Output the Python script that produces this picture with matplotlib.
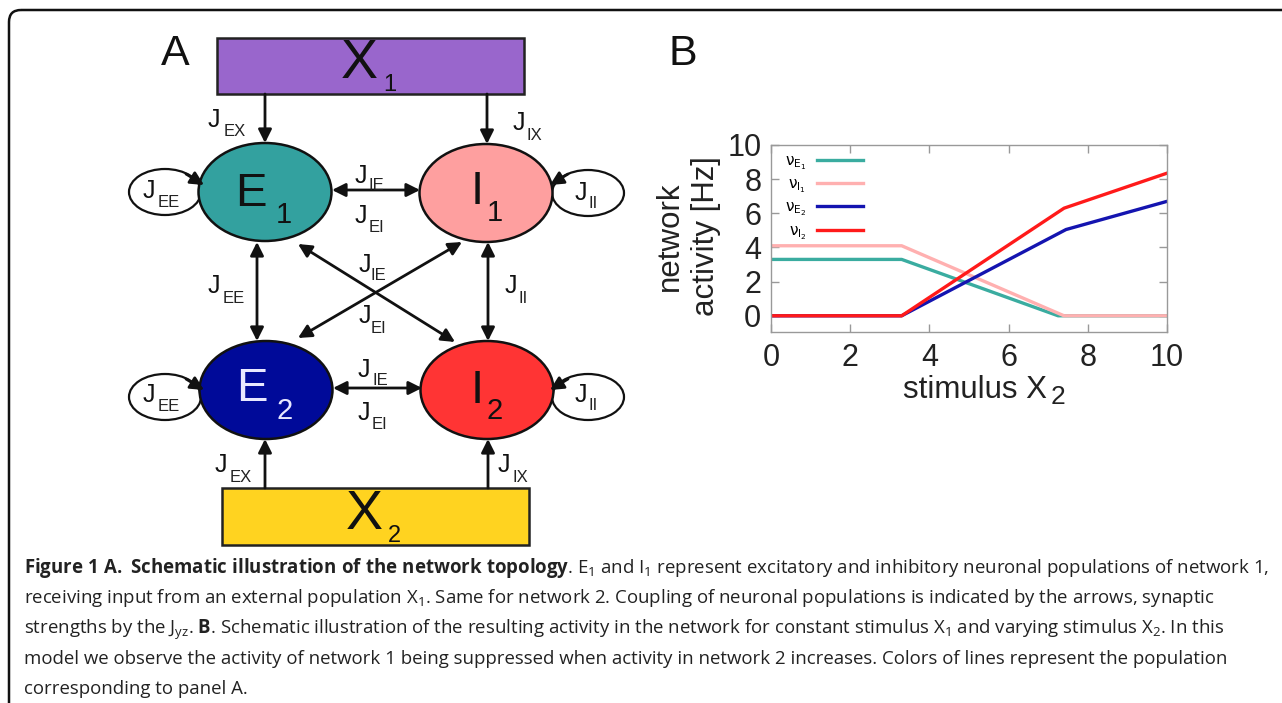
import matplotlib
matplotlib.use("Agg")
import matplotlib.pyplot as plt
from matplotlib.patches import Ellipse, Rectangle, FancyArrowPatch, FancyBboxPatch

plt.rcParams['mathtext.fontset'] = 'custom'
plt.rcParams['mathtext.rm'] = 'Open Sans'
plt.rcParams['mathtext.bf'] = 'Open Sans:bold'
plt.rcParams['mathtext.it'] = 'Open Sans:italic'
plt.rcParams['mathtext.default'] = 'regular'

# panel B data: network activity vs stimulus X2
x_e1 = [0, 3.3, 7.25, 10]
y_e1 = [3.3, 3.3, 0, 0]
x_i1 = [0, 3.3, 7.4, 10]
y_i1 = [4.1, 4.1, 0, 0]
x_e2 = [0, 3.3, 7.45, 10]
y_e2 = [0, 0, 5.05, 6.7]
x_i2 = [0, 3.3, 7.4, 10]
y_i2 = [0, 0, 6.3, 8.35]
labels = [r'$\nu_{E_1}$', r'$\nu_{I_1}$', r'$\nu_{E_2}$', r'$\nu_{I_2}$']
line_colors = ['#3aaca0', '#ffb0b0', '#1414b0', '#ff1a1a']
ticks = [0, 2, 4, 6, 8, 10]

caption = [
    r"$\mathbf{Figure\ 1\ A.\ Schematic\ illustration\ of\ the\ network\ topology}$. E$_1$ and I$_1$ represent excitatory and inhibitory neuronal populations of network 1,",
    r"receiving input from an external population X$_1$. Same for network 2. Coupling of neuronal populations is indicated by the arrows, synaptic",
    r"strengths by the J$_{yz}$. $\mathbf{B}$. Schematic illustration of the resulting activity in the network for constant stimulus X$_1$ and varying stimulus X$_2$. In this",
    r"model we observe the activity of network 1 being suppressed when activity in network 2 increases. Colors of lines represent the population",
    "corresponding to panel A.",
]

SANS = 'Liberation Sans'

fig = plt.figure(figsize=(12.82, 7.03), dpi=100)
ax = fig.add_axes([0, 0, 1, 1])
ax.set_xlim(0, 1282)
ax.set_ylim(703, 0)
ax.axis('off')

# frame around the figure
ax.add_patch(FancyBboxPatch((9, 10), 1400, 800, boxstyle='round,pad=0,rounding_size=12',
                            fc='none', ec='#111', lw=1.8))


def jlab(x, y, sub, sx=14, sy=8):
    ax.text(x, y, 'J', fontsize=18, family=SANS, va='baseline', ha='left', color='#111')
    ax.text(x + sx, y + sy, sub, fontsize=12, family=SANS, va='baseline', ha='left', color='#222')


def arrow(p0, p1, style='-|>'):
    ax.add_patch(FancyArrowPatch(p0, p1, arrowstyle=style, mutation_scale=20,
                                 lw=2, color='#111', shrinkA=0, shrinkB=0, zorder=3))


# boxes X1 and X2
ax.add_patch(Rectangle((217, 38), 307, 56, fc='#9966cc', ec='#222', lw=1.8, zorder=2))
ax.add_patch(Rectangle((222, 488), 307, 57, fc='#ffd320', ec='#222', lw=1.8, zorder=2))
ax.text(341, 78, 'X', fontsize=40, family=SANS, va='baseline', color='#111', zorder=4)
ax.text(383, 91, '1', fontsize=17, family=SANS, va='baseline', color='#111', zorder=4)
ax.text(346, 529, 'X', fontsize=40, family=SANS, va='baseline', color='#111', zorder=4)
ax.text(388, 542, '2', fontsize=17, family=SANS, va='baseline', color='#111', zorder=4)

# self loops (drawn under the populations)
for cx, cy in [(165, 192), (588, 193), (165, 397), (588, 397)]:
    ax.add_patch(Ellipse((cx, cy), 72, 46, fc='white', ec='#111', lw=1.6, zorder=1))
arrow((186, 174), (204, 185))
arrow((568, 174), (550, 185))
arrow((186, 379), (204, 390))
arrow((568, 379), (550, 390))

# populations
pops = [((265, 192), '#33a19f', 'E', '1', '#111', 235, 206, 276, 223),
        ((486, 193), '#fe9f9f', 'I', '1', '#111', 471, 204, 487, 221),
        ((266, 390), '#000a99', 'E', '2', '#e8e8ff', 236, 401, 277, 419),
        ((487, 390), '#ff3434', 'I', '2', '#111', 471, 403, 487, 419)]
for c, fc, big, sub, tc, bx, by, sx, sy in pops:
    ax.add_patch(Ellipse(c, 133, 98, fc=fc, ec='#111', lw=1.8, zorder=2))
    ax.text(bx, by, big, fontsize=34, family=SANS, va='baseline', color=tc, zorder=4)
    ax.text(sx, sy, sub, fontsize=21, family=SANS, va='baseline', color=tc, zorder=4)

# connections
arrow((265, 94), (265, 143))
arrow((487, 94), (487, 144))
arrow((332, 190), (420, 190), '<|-|>')
arrow((257, 242), (257, 341), '<|-|>')
arrow((488, 242), (488, 341), '<|-|>')
arrow((298, 244), (455, 342), '<|-|>')
arrow((462, 242), (298, 338), '<|-|>')
arrow((333, 388), (422, 388), '<|-|>')
arrow((265, 488), (265, 439))
arrow((488, 488), (488, 439))

jlab(208, 127, 'EX', 16, 9)
jlab(513, 130, 'IX', 14, 10)
jlab(143, 198, 'EE', 15, 9)
jlab(575, 200, 'II', 13, 8)
jlab(355, 183, 'IE', 14, 7)
jlab(355, 223, 'EI', 14, 9)
jlab(208, 293, 'EE', 15, 10)
jlab(505, 293, 'II', 13, 10)
jlab(359, 272, 'IE', 12, 8)
jlab(359, 323, 'EI', 12, 10)
jlab(358, 377, 'IE', 14, 8)
jlab(358, 420, 'EI', 14, 9)
jlab(143, 402, 'EE', 15, 9)
jlab(575, 402, 'II', 13, 8)
jlab(215, 472, 'EX', 15, 10)
jlab(498, 472, 'IX', 15, 10)

ax.text(161, 65, 'A', fontsize=31, family=SANS, va='baseline', color='#111')
ax.text(669, 65, 'B', fontsize=31, family=SANS, va='baseline', color='#111')

# panel B
bx = fig.add_axes([771 / 1282, 371 / 703, 396 / 1282, 187 / 703])
for xs, ys, col, lab in [(x_e1, y_e1, line_colors[0], labels[0]),
                         (x_i1, y_i1, line_colors[1], labels[1]),
                         (x_e2, y_e2, line_colors[2], labels[2]),
                         (x_i2, y_i2, line_colors[3], labels[3])]:
    bx.plot(xs, ys, color=col, lw=2.4, label=lab, solid_joinstyle='round')
bx.set_xlim(0, 10)
bx.set_ylim(-0.95, 10)
bx.set_xticks(ticks)
bx.set_yticks(ticks)
bx.tick_params(direction='in', top=True, right=True, length=6, width=1, colors='#999',
               labelcolor='#222', labelsize=22)
bx.tick_params(axis='x', pad=8)
bx.tick_params(axis='y', pad=7)
for lbl in bx.get_xticklabels() + bx.get_yticklabels():
    lbl.set_family(SANS)
for s in bx.spines.values():
    s.set_color('#999')
    s.set_linewidth(1)
bx.legend(loc='upper left', bbox_to_anchor=(0.035, 0.955), markerfirst=False, frameon=False,
          fontsize=11, handlelength=3.0, labelspacing=0.3, borderaxespad=0, borderpad=0,
          handletextpad=0.7)

ax.text(688, 236, 'network\nactivity [Hz]', rotation=90, fontsize=22.5, family=SANS,
        ha='center', va='center', linespacing=1.3, color='#222')
ax.text(903, 398, 'stimulus X', fontsize=22.5, family=SANS, va='baseline', color='#222')
ax.text(1051, 404, '2', fontsize=19, family=SANS, va='baseline', color='#222')

# caption
for i, line in enumerate(caption):
    ax.text(24, 573 + 30.3 * i, line, fontsize=13.45, family='Open Sans', va='baseline',
            ha='left', color='#222')

fig.savefig('out.png', dpi=100)
